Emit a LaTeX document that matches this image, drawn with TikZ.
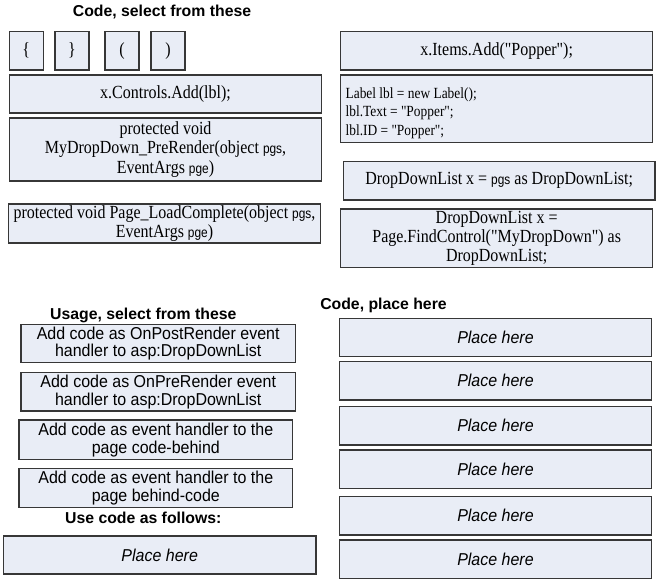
\documentclass[tikz,border=0pt]{standalone}
\usepackage{fontspec}
\setmainfont{Liberation Serif}[FakeStretch=0.865, Ligatures=TeXOff]
\setsansfont{Liberation Sans}[FakeStretch=0.93]
\newfontfamily\titlefont{Liberation Sans}
\newfontfamily\pgfnt{Liberation Sans}[FakeStretch=0.85]
\definecolor{boxfill}{RGB}{233,237,246}
\definecolor{boxline}{RGB}{55,55,55}
\newcommand\pgtxt[1]{{\pgfnt\fontsize{14}{14}\selectfont #1}}
\tikzset{
  box/.style={draw=boxline, fill=boxfill, line width=1.2pt, inner sep=0pt, align=center,
     font=\fontsize{18.5}{19.3}\selectfont},
  sbox/.style={box, font=\sffamily\fontsize{17.2}{17.7}\selectfont},
  pbox/.style={box, font=\sffamily\itshape\fontsize{17.2}{18}\selectfont,
     minimum width=312.4pt, minimum height=38.4pt},
  title/.style={font=\titlefont\bfseries\fontsize{15.8}{18}\selectfont, inner sep=0pt},
  brace/.style={box, minimum width=34pt, minimum height=38.3pt}
}
\begin{document}
\begin{tikzpicture}[x=1pt,y=-1pt]
\useasboundingbox (0,0) rectangle (660,582);
% titles
\node[title] (t1) at (162,12) {Code, select from these};
\node[title] (t2) at (143.3,315) {Usage, select from these};
\node[title] (t3) at (143.3,517.7) {Use code as follows:};
\node[title] (t4) at (383.5,305) {Code, place here};
% braces
\node[brace] (b1) at (26.3,50.8) {\{};
\node[brace] (b2) at (72,50.8) {\}};
\node[brace] (b3) at (122,50.8) {(};
\node[brace] (b4) at (168,50.8) {)};
% left code boxes
\node[box, minimum width=312.4pt, minimum height=38pt] (ctrl) at (165.5,94) {x.Controls.Add(lbl);};
\node[box, minimum width=312.4pt, minimum height=63pt] (prer) at (165.5,149.5)
  {protected void\\MyDropDown\_PreRender(object \pgtxt{pgs},\\EventArgs \pgtxt{pge})};
\node[box, minimum width=312.4pt, minimum height=39pt] (lcomp) at (164.5,223.5)
  {protected void Page\_LoadComplete(object \pgtxt{pgs},\\EventArgs \pgtxt{pge})};
% right code boxes
\node[box, minimum width=312pt, minimum height=38.3pt] (items) at (496.7,50.8) {x.Items.Add("Popper");};
\node[box, minimum width=312pt, minimum height=67.3pt] (lbl) at (496.7,108.7) {};
\node[anchor=west, align=left, inner sep=0pt, font=\fontsize{15.5}{18.3}\selectfont]
  (lbltxt) at ([xshift=5.3pt,yshift=-4.3pt]lbl.west)
  {Label lbl = new Label();\\lbl.Text = "Popper";\\lbl.ID = "Popper";};
\node[box, minimum width=311.7pt, minimum height=38.3pt] (pgsas) at (499.2,180.8)
  {DropDownList x = \pgtxt{pgs} as DropDownList;};
\node[box, minimum width=312pt, minimum height=58.7pt] (find) at (496.7,238.3)
  {DropDownList x =\\Page.FindControl("MyDropDown") as\\DropDownList;};
% usage boxes
\node[sbox, minimum width=274.3pt, minimum height=38.4pt] (u1) at (158.2,343.5)
  {Add code as OnPostRender event\\handler to asp:DropDownList};
\node[sbox, minimum width=274.3pt, minimum height=38.7pt] (u2) at (158.2,391.7)
  {Add code as OnPreRender event\\handler to asp:DropDownList};
\node[sbox, minimum width=273.7pt, minimum height=39.3pt] (u3) at (155.8,439.7)
  {Add code as event handler to the\\page code-behind};
\node[sbox, minimum width=273.7pt, minimum height=39pt] (u4) at (155.8,487.8)
  {Add code as event handler to the\\page behind-code};
\node[pbox, minimum width=312.7pt, minimum height=38pt] (pl) at (159.7,555) {Place here};
% place boxes
\node[pbox] (p1) at (495.5,337.5) {Place here};
\node[pbox] (p2) at (495.5,380.8) {Place here};
\node[pbox] (p3) at (495.5,425.8) {Place here};
\node[pbox] (p4) at (495.5,469.2) {Place here};
\node[pbox] (p5) at (495.5,515.8) {Place here};
\node[pbox] (p6) at (495.5,559.2) {Place here};
\end{tikzpicture}
\end{document}
